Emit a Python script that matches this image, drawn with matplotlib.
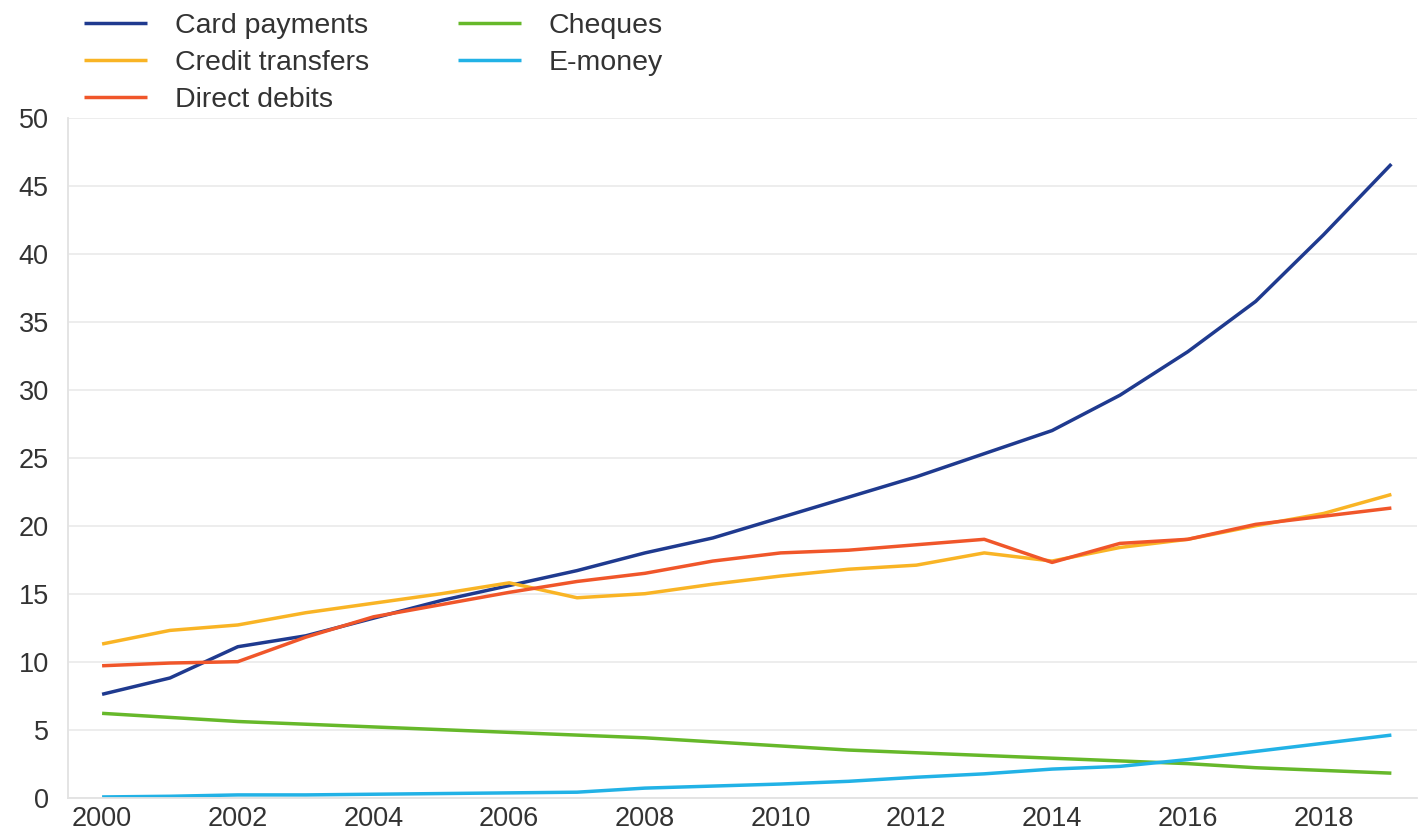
import matplotlib
matplotlib.use('Agg')
import matplotlib.pyplot as plt
import numpy as np

years = list(range(2000, 2020))

card_payments = [7.6, 8.8, 11.1, 11.9, 13.2, 14.5, 15.6, 16.7, 18.0, 19.1,
                 20.6, 22.1, 23.6, 25.3, 27.0, 29.6, 32.8, 36.5, 41.4, 46.6]
credit_transfers = [11.3, 12.3, 12.7, 13.6, 14.3, 15.0, 15.8, 14.7, 15.0, 15.7,
                    16.3, 16.8, 17.1, 18.0, 17.4, 18.4, 19.0, 20.0, 20.9, 22.3]
direct_debits = [9.7, 9.9, 10.0, 11.8, 13.3, 14.2, 15.1, 15.9, 16.5, 17.4,
                 18.0, 18.2, 18.6, 19.0, 17.3, 18.7, 19.0, 20.1, 20.7, 21.3]
cheques = [6.2, 5.9, 5.6, 5.4, 5.2, 5.0, 4.8, 4.6, 4.4, 4.1,
           3.8, 3.5, 3.3, 3.1, 2.9, 2.7, 2.5, 2.2, 2.0, 1.8]
e_money = [0.05, 0.1, 0.2, 0.2, 0.25, 0.3, 0.35, 0.4, 0.7, 0.85,
           1.0, 1.2, 1.5, 1.75, 2.1, 2.3, 2.8, 3.4, 4.0, 4.6]

series = [
    ('Card payments', card_payments, '#1f3a8f'),
    ('Credit transfers', credit_transfers, '#f9b425'),
    ('Direct debits', direct_debits, '#f0562a'),
    ('Cheques', cheques, '#66b82a'),
    ('E-money', e_money, '#22b2e6'),
]

plt.rcParams['font.family'] = ['Liberation Sans', 'DejaVu Sans']

fig = plt.figure(figsize=(14.2, 8.3), dpi=100)
ax = fig.add_axes([0.048, 0.039, 0.950, 0.819])

for name, vals, col in series:
    ax.plot(years, vals, color=col, lw=2.5, label=name, solid_capstyle='butt')

ax.set_xlim(1999.5, 2019.38)
ax.set_ylim(0, 50)
ax.set_yticks(np.arange(0, 51, 5))
ax.set_xticks(range(2000, 2019, 2))

ax.grid(axis='y', color='#ececec', lw=1.3)
ax.set_axisbelow(True)
for side in ['top', 'right']:
    ax.spines[side].set_visible(False)
for side in ['left', 'bottom']:
    ax.spines[side].set_color('#e2e2e2')
    ax.spines[side].set_linewidth(1.3)

ax.tick_params(axis='both', length=0, labelsize=19.5, labelcolor='#333333')
ax.tick_params(axis='y', pad=14)
ax.tick_params(axis='x', pad=6)

leg = fig.legend(loc='upper left', bbox_to_anchor=(0.0494, 1.0016), ncol=2,
                 frameon=False, borderpad=0, handlelength=2.2, handletextpad=1.0,
                 columnspacing=3.1, labelspacing=0.38, fontsize=20.5)
for t in leg.get_texts():
    t.set_color('#333333')

fig.savefig('out.png', dpi=100)
